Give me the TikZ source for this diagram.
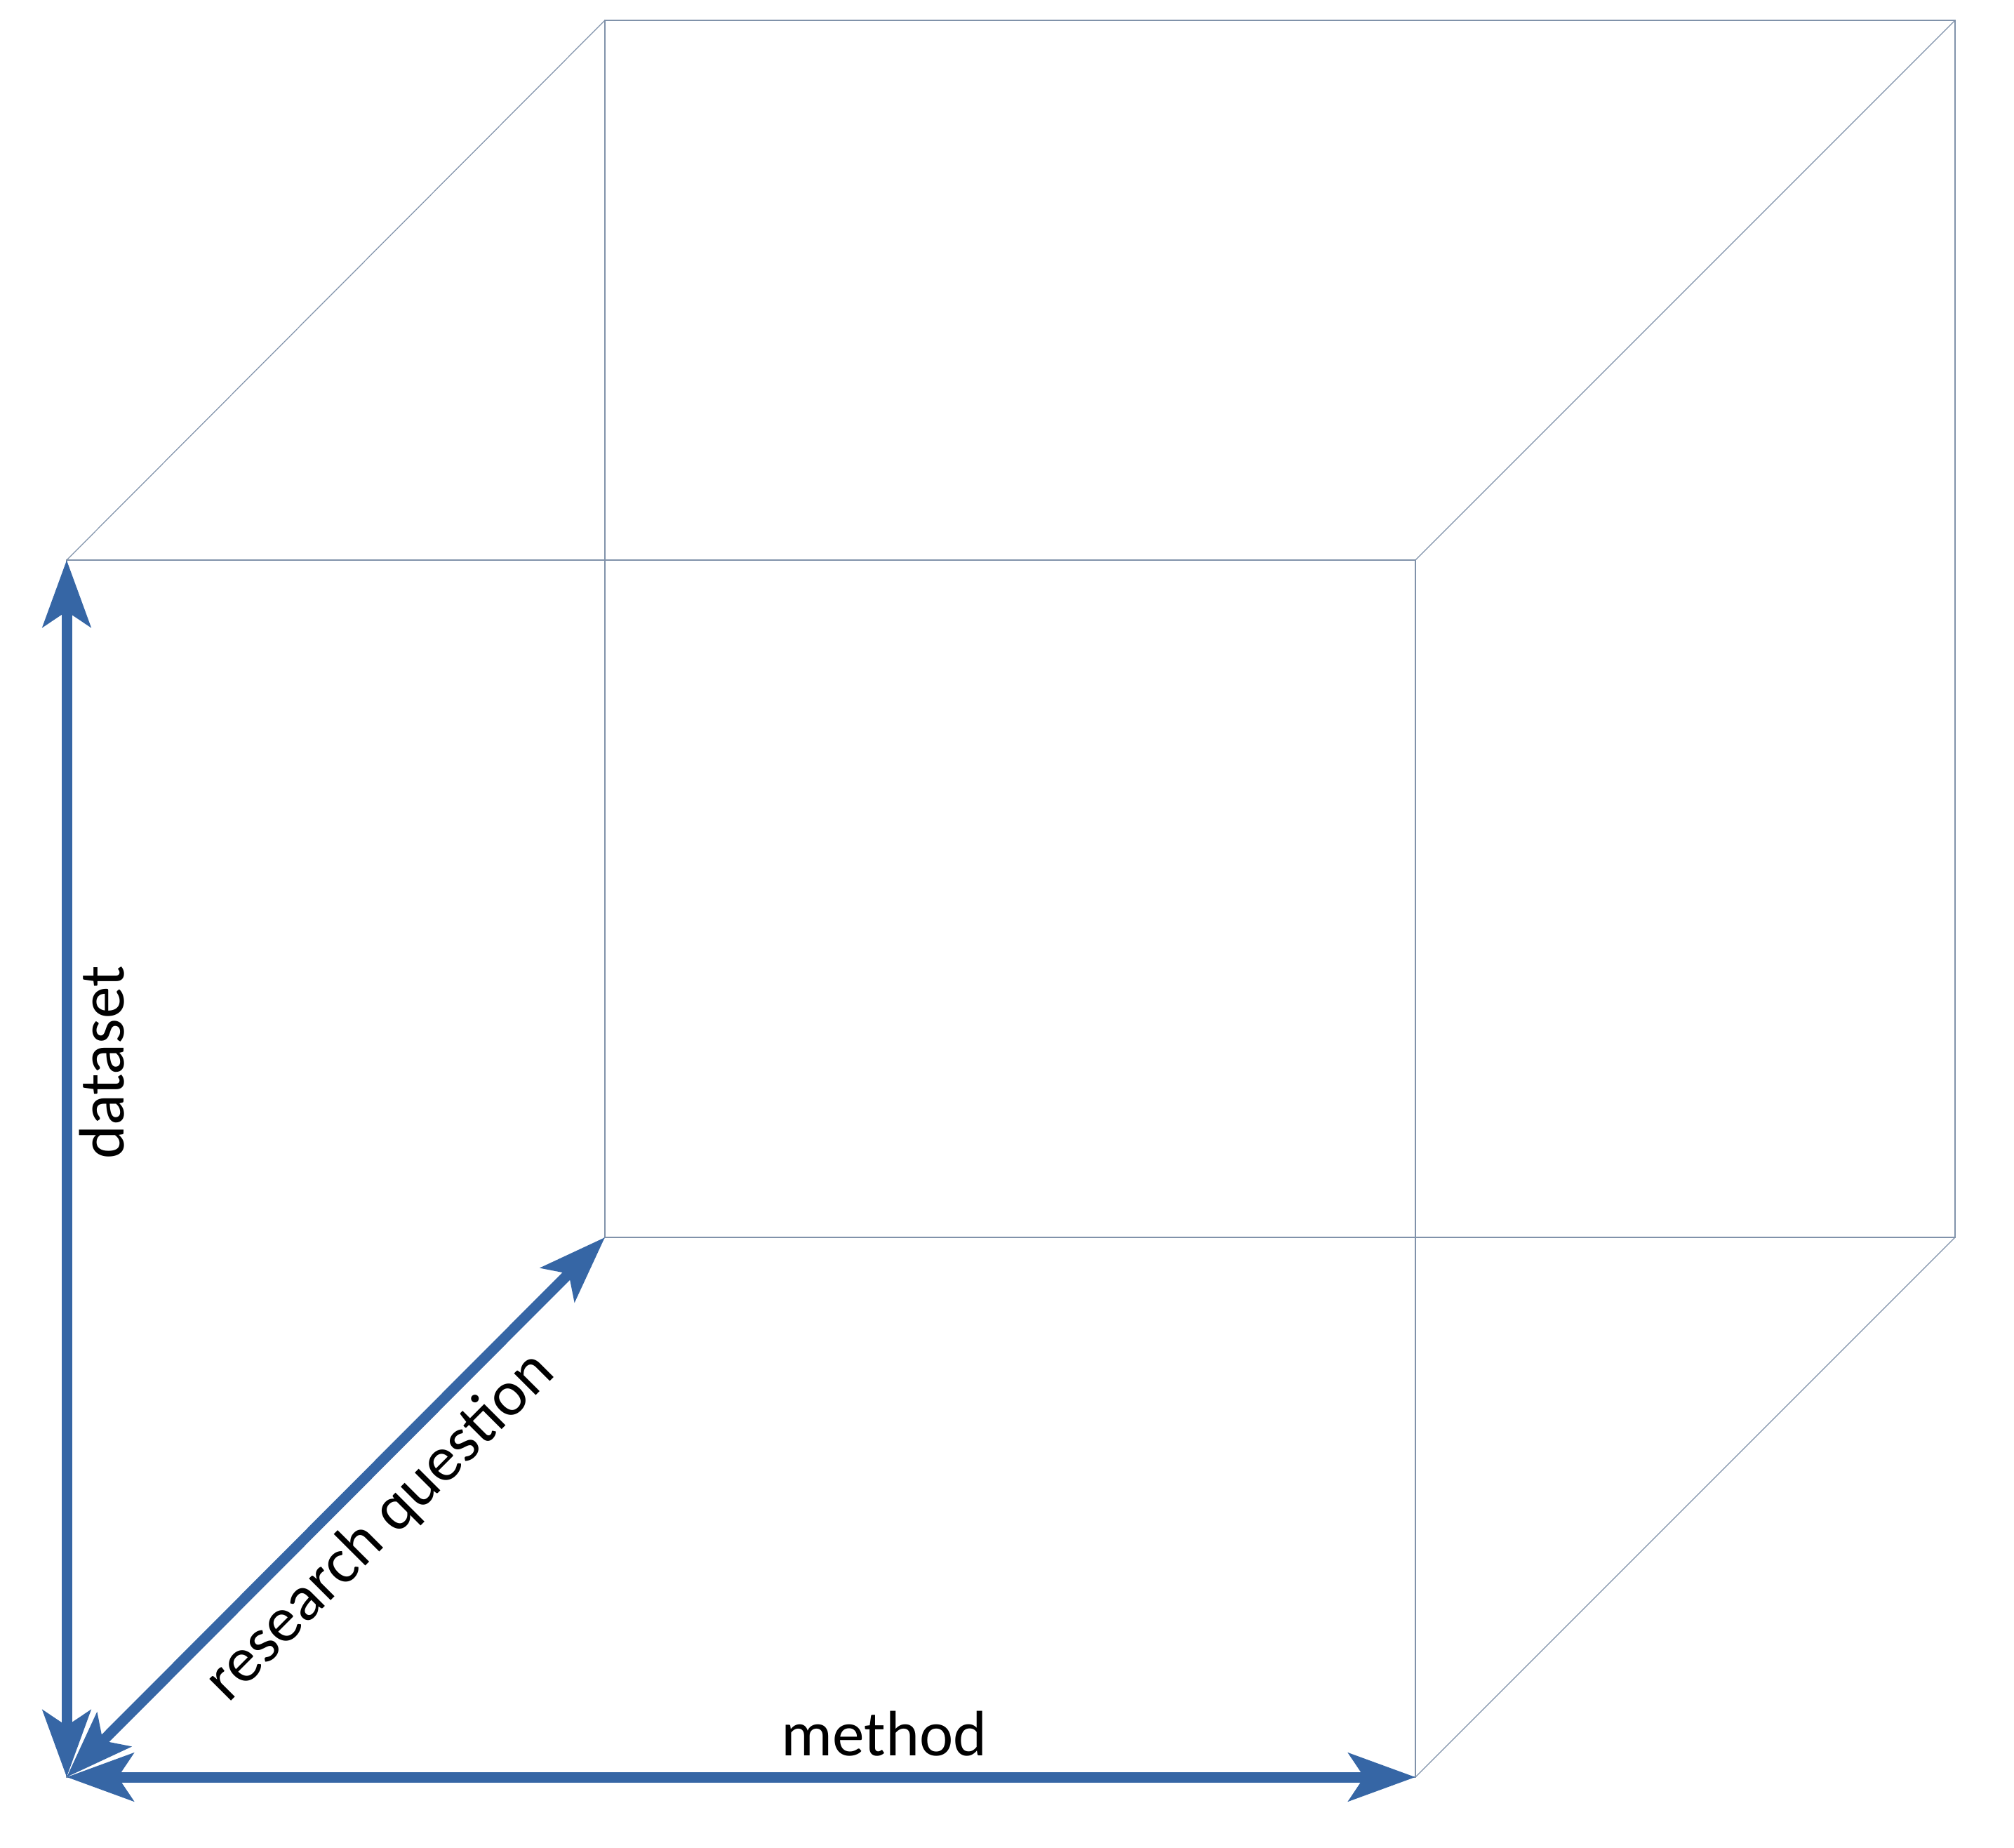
\documentclass[tikz,border=0pt]{standalone}
\usepackage{fontspec}
\setmainfont{Carlito}
\usetikzlibrary{arrows.meta, positioning}

\definecolor{axisblue}{RGB}{54,102,165}
\definecolor{edgegray}{RGB}{128,146,170}

\begin{document}
\begin{tikzpicture}[
  % thin cube edges
  edge/.style={draw=edgegray, line width=0.35pt},
  % thick double-headed axis arrows
  axis/.style={
    {Stealth[length=0.95cm,width=0.68cm,inset=0.22cm]}-{Stealth[length=0.95cm,width=0.68cm,inset=0.22cm]},
    draw=axisblue, line width=0.15cm, shorten <=0pt, shorten >=0pt
  },
  lbl/.style={font=\fontsize{26}{31}\selectfont, text=black, inner sep=3pt},
]
\useasboundingbox (0,0) rectangle (28.7,26.32);

%% ── Cube corners ───────────────────────────────────────────────────────────
\coordinate (fbl) at (0.95,1.00);
\coordinate (fbr) at (20.17,1.00);
\coordinate (ftl) at (0.95,18.34);
\coordinate (ftr) at (20.17,18.34);
\coordinate (bbl) at (8.62,8.69);
\coordinate (bbr) at (27.86,8.69);
\coordinate (btl) at (8.62,26.03);
\coordinate (btr) at (27.86,26.03);

%% ── Cube edges ─────────────────────────────────────────────────────────────
\draw[edge] (fbl) -- (fbr) -- (ftr) -- (ftl) -- cycle;
\draw[edge] (bbl) -- (bbr) -- (btr) -- (btl) -- cycle;
\draw[edge] (fbl) -- (bbl);
\draw[edge] (fbr) -- (bbr);
\draw[edge] (ftl) -- (btl);
\draw[edge] (ftr) -- (btr);

%% ── Axes ───────────────────────────────────────────────────────────────────
\draw[axis] (fbl) -- node[lbl, pos=0.587, rotate=90, anchor=north] (dset) {dataset} (ftl);
\draw[axis] (fbl) -- node[lbl, pos=0.606, above=0.12cm] (meth) {method} (fbr);
\draw[axis] (fbl) -- node[lbl, pos=0.523, sloped, below=0.08cm] (rq) {research question} (bbl);

\end{tikzpicture}
\end{document}
